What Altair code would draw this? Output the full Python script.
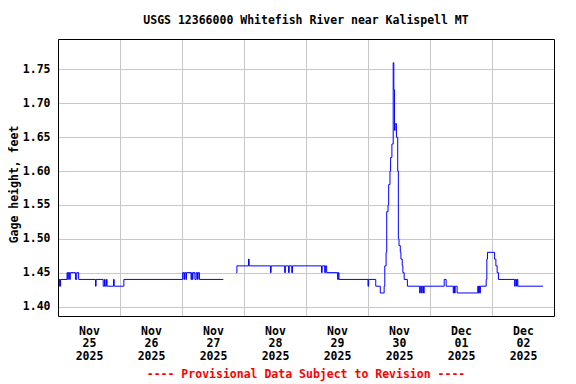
import altair as alt
import pandas as pd

TITLE = "USGS 12366000 Whitefish River near Kalispell MT"
FOOTER = "---- Provisional Data Subject to Revision ----"
Y_TITLE = "Gage height, feet"

# change points (step-after), segment 1 (before data gap)
seg1_times = [
    "2025-11-25T00:00", "2025-11-25T00:30", "2025-11-25T00:45", "2025-11-25T01:00",
    "2025-11-25T03:30", "2025-11-25T03:45", "2025-11-25T04:00", "2025-11-25T04:30",
    "2025-11-25T04:45", "2025-11-25T06:45", "2025-11-25T07:15", "2025-11-25T08:00",
    "2025-11-25T14:30", "2025-11-25T14:45", "2025-11-25T17:30", "2025-11-25T18:00",
    "2025-11-25T18:15", "2025-11-25T18:45", "2025-11-25T19:00", "2025-11-25T21:30",
    "2025-11-25T21:45", "2025-11-26T01:30", "2025-11-27T00:15", "2025-11-27T00:45",
    "2025-11-27T01:00", "2025-11-27T01:30", "2025-11-27T01:45", "2025-11-27T03:30",
    "2025-11-27T03:45", "2025-11-27T04:00", "2025-11-27T04:15", "2025-11-27T05:00",
    "2025-11-27T05:30", "2025-11-27T06:00", "2025-11-27T06:15", "2025-11-27T06:45",
    "2025-11-27T16:00",
]
seg1_values = [
    1.43, 1.44, 1.43, 1.44,
    1.45, 1.44, 1.45, 1.44,
    1.45, 1.44, 1.45, 1.44,
    1.43, 1.44, 1.43, 1.44,
    1.43, 1.44, 1.43, 1.44,
    1.43, 1.44, 1.45, 1.44,
    1.45, 1.44, 1.45, 1.44,
    1.45, 1.44, 1.45, 1.44,
    1.45, 1.44, 1.45, 1.44,
    1.44,
]

# segment 2 (after the gap)
seg2_times = [
    "2025-11-27T21:00", "2025-11-27T21:15", "2025-11-28T01:45", "2025-11-28T02:00",
    "2025-11-28T10:15", "2025-11-28T10:30", "2025-11-28T15:45", "2025-11-28T16:00",
    "2025-11-28T17:15", "2025-11-28T17:30", "2025-11-28T18:30", "2025-11-28T18:45",
    "2025-11-29T06:00", "2025-11-29T06:15", "2025-11-29T07:15", "2025-11-29T07:30",
    "2025-11-29T08:00", "2025-11-29T12:15", "2025-11-29T12:30", "2025-11-29T12:45",
    "2025-11-30T00:00", "2025-11-30T00:15", "2025-11-30T03:00", "2025-11-30T04:45",
    "2025-11-30T06:15", "2025-11-30T06:30", "2025-11-30T07:00", "2025-11-30T07:15",
    "2025-11-30T07:45", "2025-11-30T08:00", "2025-11-30T08:30", "2025-11-30T08:45",
    "2025-11-30T09:15", "2025-11-30T09:45", "2025-11-30T10:00", "2025-11-30T10:15",
    "2025-11-30T10:30", "2025-11-30T11:00", "2025-11-30T11:30", "2025-11-30T11:45",
    "2025-11-30T12:00", "2025-11-30T12:30", "2025-11-30T12:45", "2025-11-30T13:15",
    "2025-11-30T13:30", "2025-11-30T14:00", "2025-11-30T15:15", "2025-11-30T20:00",
    "2025-11-30T20:15", "2025-11-30T20:45", "2025-11-30T21:00", "2025-11-30T21:30",
    "2025-11-30T21:45", "2025-12-01T05:30", "2025-12-01T06:15", "2025-12-01T09:00",
    "2025-12-01T09:15", "2025-12-01T09:30", "2025-12-01T09:45", "2025-12-01T10:30",
    "2025-12-01T18:30", "2025-12-01T18:45", "2025-12-01T19:00", "2025-12-01T19:15",
    "2025-12-01T19:30", "2025-12-01T21:45", "2025-12-01T22:00", "2025-12-01T22:15",
    "2025-12-02T01:00", "2025-12-02T01:30", "2025-12-02T02:00", "2025-12-02T02:30",
    "2025-12-02T08:45", "2025-12-02T09:00", "2025-12-02T09:30", "2025-12-02T09:45",
    "2025-12-02T10:00", "2025-12-02T19:45",
]
seg2_values = [
    1.45, 1.46, 1.47, 1.46,
    1.45, 1.46, 1.45, 1.46,
    1.45, 1.46, 1.45, 1.46,
    1.45, 1.46, 1.45, 1.46,
    1.45, 1.44, 1.45, 1.44,
    1.43, 1.44, 1.43, 1.42,
    1.43, 1.46, 1.48, 1.54,
    1.55, 1.58, 1.60, 1.62,
    1.64, 1.76, 1.72, 1.66,
    1.67, 1.65, 1.60, 1.50,
    1.49, 1.48, 1.47, 1.46,
    1.45, 1.44, 1.43, 1.42,
    1.43, 1.42, 1.43, 1.42,
    1.43, 1.44, 1.43, 1.42,
    1.43, 1.42, 1.43, 1.42,
    1.43, 1.42, 1.43, 1.42,
    1.43, 1.44, 1.47, 1.48,
    1.47, 1.46, 1.45, 1.44,
    1.43, 1.44, 1.43, 1.44,
    1.43, 1.43,
]

day_starts = ["2025-11-26T00:00", "2025-11-27T00:00", "2025-11-28T00:00",
              "2025-11-29T00:00", "2025-11-30T00:00", "2025-12-01T00:00",
              "2025-12-02T00:00"]
label_days = [(11, 25), (11, 26), (11, 27), (11, 28), (11, 29), (11, 30), (12, 1), (12, 2)]
y_ticks = [1.40, 1.45, 1.50, 1.55, 1.60, 1.65, 1.70, 1.75]

FONT = "DejaVu Sans Mono"
GRID = "#c8c8c8"
W, H = 496, 277

df = pd.concat([
    pd.DataFrame({"time": seg1_times, "value": seg1_values, "seg": 1}),
    pd.DataFrame({"time": seg2_times, "value": seg2_values, "seg": 2}),
])
grid_df = pd.DataFrame({"time": day_starts})

x_scale = alt.Scale(domain=[alt.DateTime(year=2025, month=11, date=25, hours=0),
                            alt.DateTime(year=2025, month=12, date=3, hours=0)])
y_scale = alt.Scale(domain=[1.386, 1.795], nice=False, zero=False)

x_axis = alt.Axis(
    values=[alt.DateTime(year=2025, month=m, date=d, hours=12) for m, d in label_days],
    labelExpr="[timeFormat(datum.value, '%b'), timeFormat(datum.value, '%d'), timeFormat(datum.value, '%Y')]",
    grid=False, ticks=False, domain=False, title=None,
    labelFont=FONT, labelFontSize=11.5, labelFontWeight="bold", labelColor="black",
    labelLineHeight=12.5, labelPadding=9, labelBaseline="top", labelAlign="center",
    labelOverlap=False,
)
y_axis = alt.Axis(
    values=y_ticks, format=".2f", grid=True, gridColor=GRID, gridWidth=1,
    ticks=False, domain=False, title=Y_TITLE,
    labelFont=FONT, labelFontSize=11.5, labelFontWeight="bold", labelColor="black",
    labelPadding=8,
    titleFont=FONT, titleFontSize=11.5, titleFontWeight="bold", titleColor="black",
    titleX=-44, titleY=145, titleBaseline="middle", titleAlign="center", titleAngle=270,
)

vgrid = alt.Chart(grid_df).mark_rule(color=GRID, strokeWidth=1, xOffset=0.5).encode(
    x=alt.X("time:T", scale=x_scale, axis=x_axis),
)

line = alt.Chart(df).mark_line(color="#0000ff", strokeWidth=1, interpolate="step-after").encode(
    x=alt.X("time:T", scale=x_scale, axis=x_axis),
    y=alt.Y("value:Q", scale=y_scale, axis=y_axis),
    detail="seg:N",
)

frame = alt.Chart(pd.DataFrame({"k": [0]})).mark_rect(
    fillOpacity=0, stroke="black", strokeWidth=1
).encode(x=alt.value(0.5), x2=alt.value(W + 0.5), y=alt.value(0.5), y2=alt.value(H + 0.5))

title_txt = alt.Chart(pd.DataFrame({"t": [TITLE]})).mark_text(
    font=FONT, fontSize=11.5, fontWeight="bold", color="black", align="center", baseline="middle"
).encode(text="t:N", x=alt.value(248), y=alt.value(-18))

footer_txt = alt.Chart(pd.DataFrame({"t": [FOOTER]})).mark_text(
    font=FONT, fontSize=11.5, fontWeight="bold", color="#ff0000", align="center", baseline="middle"
).encode(text="t:N", x=alt.value(248), y=alt.value(335.5))

chart = alt.layer(vgrid, line, frame, title_txt, footer_txt).properties(
    width=W, height=H,
    autosize=alt.AutoSizeParams(type="none"),
    padding={"left": 50, "top": 31, "right": 14, "bottom": 68},
).configure_view(stroke=None).configure(background="white")

chart.save("out.html", embed_options={"renderer": "svg", "actions": False})
